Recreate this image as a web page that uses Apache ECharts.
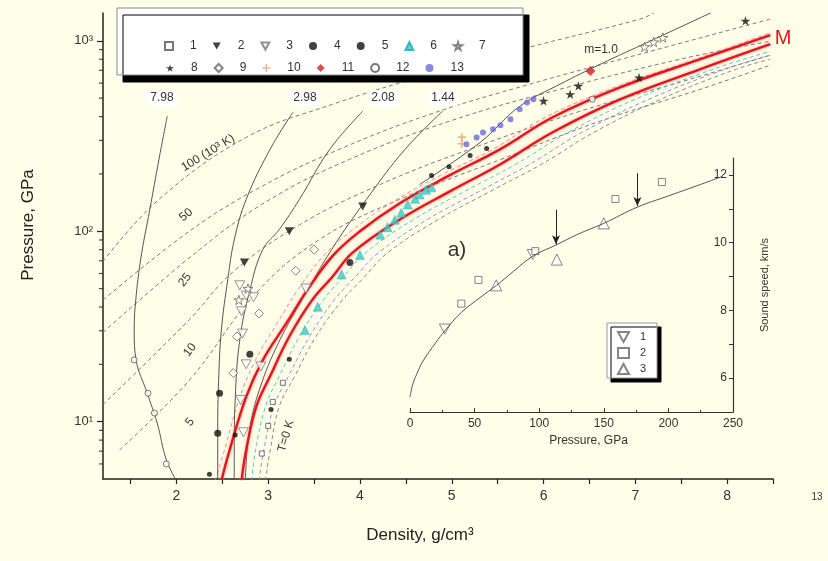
<!DOCTYPE html>
<html><head><meta charset="utf-8">
<script src="https://cdn.jsdelivr.net/npm/echarts@6/dist/echarts.min.js"></script>
<style>html,body{margin:0;padding:0;background:#FFFEE9;}#c{width:828px;height:561px;}</style>
</head><body><div id="c"></div>
<script>
// ---------- axis ticks / labels ----------
const xTickVals = [1.5,2,2.5,3,3.5,4,4.5,5,5.5,6,6.5,7,7.5,8,8.5];
const xLabelVals = [2,3,4,5,6,7,8];
const yMinorTicks = [6,7,8,9,20,30,40,50,60,70,80,90,200,300,400,500,600,700,800,900];
const insetYTicks = [6,7,8,9,10,11,12];
const insetYLabels = [6,8,10,12];

// ---------- main plot curves: [density, pressure] ----------
const red1 = [[2.49,4.9],[2.58,7.1],[2.76,13.5],[2.94,21],[3.2,33],[3.42,48.6],[3.7,74],[4.0,100],[4.43,140],[4.98,197],[5.53,270],[6.1,397],[6.84,571],[7.71,801],[8.47,1072]];
const red2 = [[2.71,4.9],[2.76,7.1],[2.87,12],[3.02,17.3],[3.23,28],[3.48,43.6],[3.7,57.7],[3.92,77.3],[4.43,115],[4.98,162],[5.53,225],[6.1,331],[6.84,494],[7.71,710],[8.47,960]];
const pinkDash = [[2.42,4.9],[2.52,7],[2.68,13],[2.86,21],[3.1,33],[3.32,49],[3.6,74],[3.9,100],[4.33,140],[4.88,197],[5.45,270],[6.02,397],[6.78,571],[7.66,801],[8.45,1090]];
const cyanDash = [[2.82,4.9],[2.86,7],[2.97,12],[3.12,17.3],[3.34,28],[3.6,43.6],[3.82,57.7],[4.06,77],[4.58,115],[5.14,162],[5.7,225],[6.27,331],[7.0,494],[7.85,710],[8.47,880]];
const blueDash = [[2.9,4.9],[2.95,7],[3.06,12],[3.22,17.3],[3.45,28],[3.72,43.6],[3.95,57.7],[4.2,77],[4.73,115],[5.3,162],[5.85,225],[6.42,331],[7.15,494],[7.98,710],[8.47,840]];
const isoT0 = [[2.97,4.9],[3.02,7],[3.12,12],[3.28,17],[3.52,28],[3.8,43],[4.04,57],[4.3,77],[4.85,115],[5.42,162],[5.98,225],[6.55,331],[7.28,494],[8.1,710],[8.47,800]];
const iso5 = [[1.38,7.1],[2.14,16.5],[2.87,47.5],[3.56,90.6],[4.43,147],[5.53,238],[6.62,379],[7.71,557],[8.47,745]];
const iso10 = [[1.2,12.3],[2.14,34.3],[2.61,60.8],[3.34,108],[4.22,176],[5.2,270],[6.4,427],[7.6,629],[8.47,841]];
const iso25 = [[1.2,29.4],[2.25,80],[3.02,147],[3.89,239],[4.98,379],[6.18,557],[7.49,801],[8.47,996]];
const iso50 = [[1.2,43.5],[2.14,100],[2.91,170],[3.78,270],[4.76,411],[5.85,592],[7.05,851],[8.47,1300]];
const iso100 = [[1.2,69.4],[1.81,147],[2.76,311],[3.7,464],[4.76,668],[5.85,927],[7.05,1300],[7.2,1400]];
const hug798 = [[1.9,402],[1.81,239],[1.71,130],[1.61,71],[1.55,40],[1.54,30],[1.56,21.1],[1.68,14.2],[1.79,9.85],[1.89,6.3],[2.0,4.9]];
const hug298 = [[3.27,422],[3.02,269],[2.76,147],[2.63,90],[2.56,56],[2.49,30.4],[2.46,16.6],[2.45,9.0],[2.45,4.9]];
const hug208 = [[4.03,427],[3.67,269],[3.34,147],[3.12,102],[2.94,80],[2.8,49],[2.69,26.9],[2.64,13],[2.63,7.1],[2.63,4.9]];
const hug144 = [[4.9,427],[4.49,269],[4.07,147],[3.69,80],[3.37,43.7],[3.13,27],[2.93,16],[2.8,9.3],[2.75,4.9]];
const hugM10 = [[4.65,176],[5.31,293],[5.74,453],[6.18,592],[6.62,754],[7.16,996],[7.82,1400]];

// ---------- main plot experimental points ----------
const s1 = [[2.93,6.8],[3.05,12.7],[3.16,16.0],[3.0,9.5]];
const s2 = [[2.74,68.5],[3.23,100],[4.03,135]];
const s3 = [[2.69,52],[2.76,46],[2.84,45],[2.71,38],[2.72,29],[2.76,20],[2.92,19.5],[2.7,13],[2.73,8.8],[3.41,50]];
const s4 = [[2.36,5.3],[2.64,8.5],[3.03,11.6],[3.23,21.3],[4.78,196],[4.97,218],[5.2,250],[5.38,272]];
const s5 = [[2.45,8.7],[2.47,14.1],[2.8,22.6],[3.89,68.5]];
const s6 = [[3.4,30.3],[3.54,40.1],[3.8,59.3],[4.0,75],[4.22,96],[4.3,105],[4.38,115],[4.45,125],[4.52,138],[4.6,148],[4.65,156],[4.72,165],[4.78,170]];
const s7 = [[7.2,985],[7.1,930],[7.3,1040],[2.68,43.6],[2.78,50]];
const s8 = [[8.2,1275],[7.04,642],[6.38,580],[6.29,524],[6.0,484]];
const s9 = [[2.62,18],[2.66,28],[2.9,37],[3.3,62],[3.5,80]];
const s10 = [[5.11,312],[5.11,288]];
const s11 = [[6.51,695]];
const s12 = [[1.54,21.1],[1.69,14.1],[1.76,11.1],[1.89,6.0],[6.53,494]];
const s13 = [[5.16,286],[5.27,311],[5.34,330],[5.45,343],[5.53,360],[5.64,387],[5.74,437],[5.82,475],[5.89,493]];

// ---------- inset: [pressure GPa, sound speed km/s] ----------
const insetCurve = [[0,5.44],[2,5.8],[5,6.1],[10,6.5],[20,7.05],[27,7.4],[40,7.95],[55,8.4],[67,8.74],[80,9.15],[95,9.6],[113,9.93],[130,10.25],[150,10.57],[176,11.05],[200,11.38],[225,11.72],[242,11.96]];
const insetS1 = [[27,7.45],[95,9.65]];
const insetS2 = [[39.7,8.2],[53,8.9],[97,9.75],[159,11.29],[195,11.79]];
const insetS3 = [[66.7,8.74],[113.6,9.5],[150,10.57]];
const insetArrows = [[113,10.97,9.95],[176,12.05,11.08]];

const X_MIN = 1.2, X_MAX = 8.5, Y_MIN = 5, Y_MAX = 1400;

const chart = echarts.init(document.getElementById('c'), null, {renderer:'canvas'});
const FONT = 'Liberation Sans, Arial, sans-serif';
const sup = {1:'¹',2:'²',3:'³'};
const tri_down = 'path://M0,0L10,0L5,9Z';
const starPath = 'path://M50,0L61,35L98,35L68,57L79,91L50,70L21,91L32,57L2,35L39,35Z';
const plusPath = 'path://M4,0H6V4H10V6H6V10H4V6H0V4H4Z';
const openStyle = c => ({color:'#ffffff', borderColor:c, borderWidth:1});

function line(name, data, color, width, dashed, extra){
  return Object.assign({type:'line', name, data, smooth:0.4, symbol:'none', silent:true, z:2,
    xAxisIndex:0, yAxisIndex:0,
    lineStyle:{color, width, type: dashed ? [4,3] : 'solid'}}, extra||{});
}
function pts(name, data, symbol, size, itemStyle){
  return {type:'scatter', name, data, symbol, symbolSize:size, symbolKeepAspect:true, itemStyle, z:4, xAxisIndex:0, yAxisIndex:0, silent:true};
}

const series = [
  line('iso100', iso100, '#7a7a7a', 1, true),
  line('iso50', iso50, '#7a7a7a', 1, true),
  line('iso25', iso25, '#7a7a7a', 1, true),
  line('iso10', iso10, '#7a7a7a', 1, true),
  line('iso5', iso5, '#7a7a7a', 1, true),
  line('isoT0', isoT0, '#8a8a8a', 1, true),
  line('pinkDash', pinkDash, '#f08a9a', 1, true),
  line('cyanDash', cyanDash, '#55c8c8', 1, true),
  line('blueDash', blueDash, '#8c8cf0', 1, true),
  line('hug798', hug798, '#555', 1, false),
  line('hug298', hug298, '#555', 1, false),
  line('hug208', hug208, '#555', 1, false),
  line('hug144', hug144, '#555', 1, false),
  line('hugM10', hugM10, '#555', 1, false),
  line('red1', red1, '#e3161c', 2.4, false, {lineStyle:{color:'#e3161c', width:2.4, shadowColor:'rgba(255,120,120,0.8)', shadowBlur:3}}),
  line('red2', red2, '#e3161c', 2.4, false, {lineStyle:{color:'#e3161c', width:2.4, shadowColor:'rgba(255,120,120,0.8)', shadowBlur:3}}),
  pts('1', s1, 'rect', 5, openStyle('#555')),
  pts('2', s2, tri_down, 9, {color:'#111'}),
  pts('3', s3, tri_down, 10, openStyle('#777')),
  pts('4', s4, 'circle', 5, {color:'#111'}),
  pts('5', s5, 'circle', 7, {color:'#111'}),
  pts('6', s6, 'triangle', 9, {color:'#3cc8c8', borderColor:'#2aa', borderWidth:0.5}),
  pts('7', s7, starPath, 10, openStyle('#666')),
  pts('8', s8, starPath, 10, {color:'#111'}),
  pts('9', s9, 'diamond', 9, openStyle('#666')),
  pts('10', s10, plusPath, 8, {color:'#e8a070'}),
  pts('11', s11, 'diamond', 10, {color:'#cc2222'}),
  pts('12', s12, 'circle', 6, openStyle('#555')),
  pts('13', s13, 'circle', 6, {color:'#6a6ae0'}),
  // minor log ticks on the left axis
  {type:'scatter', name:'minorTicks', data: yMinorTicks.map(v=>[X_MIN, v]), symbol:'rect', symbolSize:[4,1.2], symbolOffset:[-2,0],
   itemStyle:{color:'#222'}, clip:false, silent:true, z:5, xAxisIndex:0, yAxisIndex:0},
  // inset
  {type:'line', name:'insetCurve', data: insetCurve, smooth:0.4, symbol:'none', silent:true, xAxisIndex:1, yAxisIndex:1,
   lineStyle:{color:'#555', width:1},
   markLine:{silent:true, symbol:['none','arrow'], symbolSize:[6,9], label:{show:false},
     lineStyle:{color:'#222', width:1, type:'solid'},
     data: insetArrows.map(a=>[{coord:[a[0],a[1]]},{coord:[a[0],a[2]]}])}},
  {type:'scatter', name:'i1', data: insetS1, symbol: tri_down, symbolSize:11, symbolKeepAspect:true, itemStyle:openStyle('#666'), xAxisIndex:1, yAxisIndex:1, silent:true},
  {type:'scatter', name:'i2', data: insetS2, symbol:'rect', symbolSize:7, itemStyle:openStyle('#666'), xAxisIndex:1, yAxisIndex:1, silent:true},
  {type:'scatter', name:'i3', data: insetS3, symbol:'triangle', symbolSize:11, itemStyle:openStyle('#666'), xAxisIndex:1, yAxisIndex:1, silent:true}
];

const legendText = {fontSize:12, color:'#333', fontFamily:FONT, padding:[0,0,0,12]};
const option = {
  backgroundColor:'#FFFEE9',
  animation:false,
  textStyle:{fontFamily:FONT},
  grid:[
    {left:103, top:13, width:670, height:466},
    {left:410, top:158, width:323, height:254}
  ],
  xAxis:[
    {type:'value', gridIndex:0, min:X_MIN, max:X_MAX,
     axisLine:{onZero:false, lineStyle:{color:'#222', width:1.5}},
     axisTick:{customValues:xTickVals, length:5, lineStyle:{color:'#222', width:1.2}},
     axisLabel:{customValues:xLabelVals, fontSize:14, color:'#333', margin:10},
     splitLine:{show:false}},
    {type:'value', gridIndex:1, min:0, max:250, interval:50,
     axisLine:{onZero:false, lineStyle:{color:'#333', width:1.2}},
     axisTick:{inside:true, length:4, lineStyle:{color:'#333'}},
     minorTick:{show:true, splitNumber:2, length:2, lineStyle:{color:'#333'}},
     axisLabel:{fontSize:12, color:'#333', margin:6},
     name:'Pressure, GPa', nameLocation:'middle', nameGap:23,
     nameTextStyle:{fontSize:12, color:'#333', padding:[0,0,0,34]},
     splitLine:{show:false}}
  ],
  yAxis:[
    {type:'log', logBase:10, gridIndex:0, min:Y_MIN, max:Y_MAX,
     axisLine:{onZero:false, lineStyle:{color:'#222', width:1.5}},
     axisTick:{length:6, lineStyle:{color:'#222', width:1.2}},
     axisLabel:{fontSize:13, color:'#333', margin:10, showMinLabel:false, showMaxLabel:false,
       formatter: v => { const e = Math.round(Math.log10(v)); return Math.abs(Math.log10(v)-e) < 1e-6 ? '10' + (sup[e]||e) : ''; }},
     splitLine:{show:false}, minorSplitLine:{show:false}},
    {type:'value', gridIndex:1, position:'right', min:5, max:12.5,
     axisLine:{show:true, onZero:false, lineStyle:{color:'#333', width:1.2}},
     axisTick:{show:true, customValues:insetYTicks, inside:true, length:4, lineStyle:{color:'#333'}},
     axisLabel:{customValues:insetYLabels, inside:true, fontSize:12, color:'#333', margin:6},
     name:'Sound speed, km/s', nameLocation:'middle', nameRotate:90, nameGap:26,
     nameTextStyle:{fontSize:11, color:'#333'},
     splitLine:{show:false}}
  ],
  legend:[
    {data:['1','2','3','4','5','6','7'], left:159, top:35, itemWidth:8, itemHeight:8, itemGap:16, textStyle:legendText, z:10, selectedMode:false},
    {data:['8','9','10','11','12','13'], left:161, top:57, itemWidth:8, itemHeight:8, itemGap:16, textStyle:legendText, z:10, selectedMode:false},
    {data:['i1','i2','i3'], orient:'vertical', left:612, top:326, itemWidth:11, itemHeight:10, itemGap:4,
     formatter: n => n.slice(1), textStyle:{fontSize:11, color:'#333', padding:[0,0,0,6]}, z:10, selectedMode:false}
  ],
  graphic:[
    {type:'rect', z:8, shape:{x:117, y:8, width:406, height:67}, style:{fill:'#ffffff', stroke:'#888', lineWidth:1, shadowColor:'#000', shadowOffsetX:6, shadowOffsetY:7, shadowBlur:0}},
    {type:'rect', z:8, shape:{x:607, y:323, width:50, height:55}, style:{fill:'#ffffff', stroke:'#999', lineWidth:1, shadowColor:'#000', shadowOffsetX:4, shadowOffsetY:4, shadowBlur:0}},
    {type:'text', z:9, x:28, y:225, rotation:Math.PI/2, style:{text:'Pressure, GPa', fontSize:17, fill:'#222', fontFamily:FONT, align:'center', verticalAlign:'middle'}},
    {type:'text', z:9, x:420, y:535, style:{text:'Density, g/cm³', fontSize:17, fill:'#222', fontFamily:FONT, align:'center', verticalAlign:'middle'}},
    {type:'text', z:9, x:817, y:497, style:{text:'13', fontSize:10, fill:'#333', fontFamily:FONT, align:'center', verticalAlign:'middle'}},
    {type:'text', z:9, x:457, y:250, style:{text:'a)', fontSize:21, fill:'#333', fontFamily:FONT, align:'center', verticalAlign:'middle'}},
    {type:'text', z:9, x:783, y:38, style:{text:'M', fontSize:20, fill:'#e3161c', fontFamily:FONT, align:'center', verticalAlign:'middle'}},
    {type:'text', z:9, x:601, y:50, style:{text:'m=1.0', fontSize:12, fill:'#333', fontFamily:FONT, align:'center', verticalAlign:'middle'}},
    {type:'text', z:9, x:162, y:98, style:{text:'7.98', fontSize:12, fill:'#333', fontFamily:FONT, align:'center', verticalAlign:'middle', backgroundColor:'#fff', padding:[2,3]}},
    {type:'text', z:9, x:305, y:98, style:{text:'2.98', fontSize:12, fill:'#333', fontFamily:FONT, align:'center', verticalAlign:'middle', backgroundColor:'#fff', padding:[2,3]}},
    {type:'text', z:9, x:383, y:98, style:{text:'2.08', fontSize:12, fill:'#333', fontFamily:FONT, align:'center', verticalAlign:'middle', backgroundColor:'#fff', padding:[2,3]}},
    {type:'text', z:9, x:443, y:98, style:{text:'1.44', fontSize:12, fill:'#333', fontFamily:FONT, align:'center', verticalAlign:'middle', backgroundColor:'#fff', padding:[2,3]}},
    {type:'text', z:9, x:208, y:153, rotation:0.55, style:{text:'100 (10³ K)', fontSize:12, fill:'#333', fontFamily:FONT, align:'center', verticalAlign:'middle'}},
    {type:'text', z:9, x:186, y:215, rotation:0.7, style:{text:'50', fontSize:12, fill:'#333', fontFamily:FONT, align:'center', verticalAlign:'middle'}},
    {type:'text', z:9, x:185, y:280, rotation:0.9, style:{text:'25', fontSize:12, fill:'#333', fontFamily:FONT, align:'center', verticalAlign:'middle'}},
    {type:'text', z:9, x:190, y:350, rotation:0.9, style:{text:'10', fontSize:12, fill:'#333', fontFamily:FONT, align:'center', verticalAlign:'middle'}},
    {type:'text', z:9, x:190, y:422, rotation:0.9, style:{text:'5', fontSize:12, fill:'#333', fontFamily:FONT, align:'center', verticalAlign:'middle'}},
    {type:'text', z:9, x:286, y:436, rotation:1.3, style:{text:'T=0 K', fontSize:12, fill:'#333', fontFamily:FONT, align:'center', verticalAlign:'middle'}}
  ],
  series
};
chart.setOption(option);
</script></body></html>
